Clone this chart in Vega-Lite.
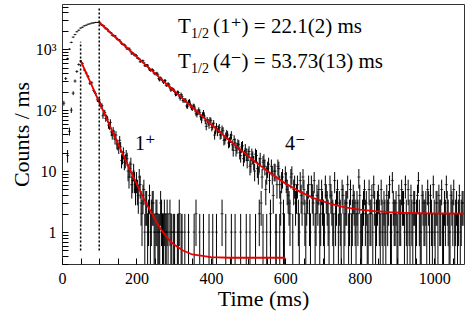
{
  "$schema": "https://vega.github.io/schema/vega-lite/v6.json",
  "width": 402,
  "height": 260,
  "autosize": {"type": "none"},
  "padding": {"left": 62, "top": 4, "right": 5, "bottom": 68},
  "background": "white",
  "config": {
    "view": {"stroke": "#333", "strokeWidth": 1},
    "font": "Liberation Serif, Times New Roman, Times, DejaVu Serif, serif",
    "axis": {"grid": false, "domain": false, "tickColor": "#000", "labelColor": "#000", "titleColor": "#000", "labelFont": "Liberation Serif, Times New Roman, Times, DejaVu Serif, serif", "titleFont": "Liberation Serif, Times New Roman, Times, DejaVu Serif, serif", "titleFontWeight": "normal", "labelFontSize": 16, "titleFontSize": 22, "labelOverlap": false, "labelFlush": false}
  },
  "datasets": {
    "h": [
      {"s":"b","x":5,"y":130,"e":11.4},{"s":"b","x":10,"y":330,"e":18.2},{"s":"b","x":15,"y":700,"e":26.5},{"s":"b","x":20,"y":1000,"e":31.6},{"s":"b","x":25,"y":1290,"e":35.9},{"s":"b","x":30,"y":1575,"e":39.7},{"s":"b","x":35,"y":1735,"e":41.7},{"s":"b","x":40,"y":1930,"e":43.9},{"s":"b","x":45,"y":2045,"e":45.2},{"s":"b","x":50,"y":2215,"e":47.1},{"s":"b","x":55,"y":2290,"e":47.9},{"s":"b","x":60,"y":2415,"e":49.1},{"s":"b","x":65,"y":2470,"e":49.7},{"s":"b","x":70,"y":2560,"e":50.6},{"s":"b","x":75,"y":2600,"e":51},{"s":"b","x":80,"y":2675,"e":51.7},{"s":"b","x":85,"y":2690,"e":51.9},{"s":"b","x":90,"y":2745,"e":52.4},{"s":"b","x":95,"y":2740,"e":52.3},
      {"s":"b","x":100,"y":2768,"e":52.6},{"s":"b","x":105,"y":2524,"e":50.2},{"s":"b","x":110,"y":2458,"e":49.6},{"s":"b","x":115,"y":2258,"e":47.5},{"s":"b","x":120,"y":2191,"e":46.8},{"s":"b","x":125,"y":1962,"e":44.3},{"s":"b","x":130,"y":1873,"e":43.3},{"s":"b","x":135,"y":1689,"e":41.1},{"s":"b","x":140,"y":1679,"e":41},{"s":"b","x":145,"y":1560,"e":39.5},{"s":"b","x":150,"y":1429,"e":37.8},{"s":"b","x":155,"y":1398,"e":37.4},{"s":"b","x":160,"y":1237,"e":35.2},{"s":"b","x":165,"y":1190,"e":34.5},{"s":"b","x":170,"y":1136,"e":33.7},{"s":"b","x":175,"y":1004,"e":31.7},{"s":"b","x":180,"y":1034,"e":32.2},{"s":"b","x":185,"y":905,"e":30.1},{"s":"b","x":190,"y":868,"e":29.5},{"s":"b","x":195,"y":786,"e":28},
      {"s":"b","x":200,"y":786,"e":28},{"s":"b","x":205,"y":708,"e":26.6},{"s":"b","x":210,"y":621,"e":24.9},{"s":"b","x":215,"y":643,"e":25.4},{"s":"b","x":220,"y":596,"e":24.4},{"s":"b","x":225,"y":536,"e":23.2},{"s":"b","x":230,"y":545,"e":23.3},{"s":"b","x":235,"y":461,"e":21.5},{"s":"b","x":240,"y":457,"e":21.4},{"s":"b","x":245,"y":444,"e":21.1},{"s":"b","x":250,"y":393,"e":19.8},{"s":"b","x":255,"y":405,"e":20.1},{"s":"b","x":260,"y":329,"e":18.1},{"s":"b","x":265,"y":338,"e":18.4},{"s":"b","x":270,"y":305,"e":17.5},{"s":"b","x":275,"y":303,"e":17.4},{"s":"b","x":280,"y":256,"e":16},{"s":"b","x":285,"y":271,"e":16.5},{"s":"b","x":290,"y":233,"e":15.3},{"s":"b","x":295,"y":224,"e":15},
      {"s":"b","x":300,"y":214,"e":14.6},{"s":"b","x":305,"y":182,"e":13.5},{"s":"b","x":310,"y":196,"e":14},{"s":"b","x":315,"y":170,"e":13},{"s":"b","x":320,"y":181,"e":13.5},{"s":"b","x":325,"y":144,"e":12},{"s":"b","x":330,"y":144,"e":12},{"s":"b","x":335,"y":117,"e":10.8},{"s":"b","x":340,"y":136,"e":11.7},{"s":"b","x":345,"y":123,"e":11.1},{"s":"b","x":350,"y":107,"e":10.3},{"s":"b","x":355,"y":116,"e":10.8},{"s":"b","x":360,"y":89,"e":9.4},{"s":"b","x":365,"y":92,"e":9.6},{"s":"b","x":370,"y":92,"e":9.6},{"s":"b","x":375,"y":69,"e":8.3},{"s":"b","x":380,"y":91,"e":9.5},{"s":"b","x":385,"y":67,"e":8.2},{"s":"b","x":390,"y":69,"e":8.3},{"s":"b","x":395,"y":57,"e":7.5},
      {"s":"b","x":102.5,"y":2663,"e":51.6},{"s":"b","x":107.5,"y":2478,"e":49.8},{"s":"b","x":112.5,"y":2395,"e":48.9},{"s":"b","x":117.5,"y":2154,"e":46.4},{"s":"b","x":122.5,"y":2094,"e":45.8},{"s":"b","x":127.5,"y":1921,"e":43.8},{"s":"b","x":132.5,"y":1831,"e":42.8},{"s":"b","x":137.5,"y":1647,"e":40.6},{"s":"b","x":142.5,"y":1655,"e":40.7},{"s":"b","x":147.5,"y":1479,"e":38.5},{"s":"b","x":152.5,"y":1432,"e":37.8},{"s":"b","x":157.5,"y":1318,"e":36.3},{"s":"b","x":162.5,"y":1194,"e":34.6},{"s":"b","x":167.5,"y":1196,"e":34.6},{"s":"b","x":172.5,"y":1061,"e":32.6},{"s":"b","x":177.5,"y":1026,"e":32},{"s":"b","x":182.5,"y":972,"e":31.2},{"s":"b","x":187.5,"y":837,"e":28.9},{"s":"b","x":192.5,"y":832,"e":28.8},{"s":"b","x":197.5,"y":811,"e":28.5},
      {"s":"b","x":202.5,"y":712,"e":26.7},{"s":"b","x":207.5,"y":693,"e":26.3},{"s":"b","x":212.5,"y":633,"e":25.2},{"s":"b","x":217.5,"y":647,"e":25.4},{"s":"b","x":222.5,"y":536,"e":23.2},{"s":"b","x":227.5,"y":547,"e":23.4},{"s":"b","x":232.5,"y":499,"e":22.3},{"s":"b","x":237.5,"y":449,"e":21.2},{"s":"b","x":242.5,"y":464,"e":21.5},{"s":"b","x":247.5,"y":404,"e":20.1},{"s":"b","x":252.5,"y":396,"e":19.9},{"s":"b","x":257.5,"y":379,"e":19.5},{"s":"b","x":262.5,"y":312,"e":17.7},{"s":"b","x":267.5,"y":321,"e":17.9},{"s":"b","x":272.5,"y":286,"e":16.9},{"s":"b","x":277.5,"y":303,"e":17.4},{"s":"b","x":282.5,"y":259,"e":16.1},{"s":"b","x":287.5,"y":259,"e":16.1},{"s":"b","x":292.5,"y":214,"e":14.6},{"s":"b","x":297.5,"y":221,"e":14.9},
      {"s":"b","x":302.5,"y":203,"e":14.2},{"s":"b","x":307.5,"y":185,"e":13.6},{"s":"b","x":312.5,"y":194,"e":13.9},{"s":"b","x":317.5,"y":156,"e":12.5},{"s":"b","x":322.5,"y":168,"e":13},{"s":"b","x":327.5,"y":146,"e":12.1},{"s":"b","x":332.5,"y":145,"e":12},{"s":"b","x":337.5,"y":116,"e":10.8},{"s":"b","x":342.5,"y":140,"e":11.8},{"s":"b","x":347.5,"y":111,"e":10.5},{"s":"b","x":352.5,"y":117,"e":10.8},{"s":"b","x":357.5,"y":103,"e":10.1},{"s":"b","x":362.5,"y":85,"e":9.2},{"s":"b","x":367.5,"y":101,"e":10},{"s":"b","x":372.5,"y":78,"e":8.8},{"s":"b","x":377.5,"y":82,"e":9.1},{"s":"b","x":382.5,"y":80,"e":8.9},{"s":"b","x":387.5,"y":54,"e":7.3},{"s":"b","x":392.5,"y":64,"e":8},{"s":"b","x":397.5,"y":69,"e":8.3},
      {"s":"b","x":400,"y":67,"e":8.2},{"s":"b","x":405,"y":55,"e":7.4},{"s":"b","x":410,"y":39,"e":6.2},{"s":"b","x":415,"y":54,"e":7.3},{"s":"b","x":420,"y":49,"e":7},{"s":"b","x":425,"y":39,"e":6.2},{"s":"b","x":430,"y":49,"e":7},{"s":"b","x":435,"y":32,"e":5.7},{"s":"b","x":440,"y":37,"e":6.1},{"s":"b","x":445,"y":39,"e":6.2},{"s":"b","x":450,"y":30,"e":5.5},{"s":"b","x":455,"y":39,"e":6.2},{"s":"b","x":460,"y":22,"e":4.7},{"s":"b","x":465,"y":29,"e":5.4},{"s":"b","x":470,"y":24,"e":4.9},{"s":"b","x":475,"y":27,"e":5.2},{"s":"b","x":480,"y":18,"e":4.2},{"s":"b","x":485,"y":26,"e":5.1},{"s":"b","x":490,"y":18,"e":4.2},{"s":"b","x":495,"y":19,"e":4.4},
      {"s":"b","x":500,"y":19,"e":4.4},{"s":"b","x":505,"y":12,"e":3.5},{"s":"b","x":510,"y":19,"e":4.4},{"s":"b","x":515,"y":14,"e":3.7},{"s":"b","x":520,"y":19,"e":4.4},{"s":"b","x":525,"y":11,"e":3.3},{"s":"b","x":530,"y":13,"e":3.6},{"s":"b","x":535,"y":3,"e":1.73},{"s":"b","x":540,"y":14,"e":3.7},{"s":"b","x":545,"y":12,"e":3.5},{"s":"b","x":550,"y":9,"e":3},{"s":"b","x":555,"y":13,"e":3.6},{"s":"b","x":560,"y":2,"e":1.41},{"s":"b","x":565,"y":9,"e":3},{"s":"b","x":570,"y":10,"e":3.2},{"s":"b","x":575,"y":1,"e":0.99},{"s":"b","x":580,"y":12,"e":3.5},{"s":"b","x":585,"y":6,"e":2.45},{"s":"b","x":590,"y":7,"e":2.65},{"s":"b","x":595,"y":2,"e":1.41},
      {"s":"b","x":402.5,"y":52,"e":7.2},{"s":"b","x":407.5,"y":61,"e":7.8},{"s":"b","x":412.5,"y":47,"e":6.9},{"s":"b","x":417.5,"y":44,"e":6.6},{"s":"b","x":422.5,"y":52,"e":7.2},{"s":"b","x":427.5,"y":40,"e":6.3},{"s":"b","x":432.5,"y":46,"e":6.8},{"s":"b","x":437.5,"y":33,"e":5.7},{"s":"b","x":442.5,"y":41,"e":6.4},{"s":"b","x":447.5,"y":29,"e":5.4},{"s":"b","x":452.5,"y":35,"e":5.9},{"s":"b","x":457.5,"y":27,"e":5.2},{"s":"b","x":462.5,"y":33,"e":5.7},{"s":"b","x":467.5,"y":22,"e":4.7},{"s":"b","x":472.5,"y":28,"e":5.3},{"s":"b","x":477.5,"y":20,"e":4.5},{"s":"b","x":482.5,"y":25,"e":5},{"s":"b","x":487.5,"y":16,"e":4},{"s":"b","x":492.5,"y":23,"e":4.8},{"s":"b","x":497.5,"y":15,"e":3.9},
      {"s":"b","x":502.5,"y":21,"e":4.6},{"s":"b","x":507.5,"y":13,"e":3.6},{"s":"b","x":512.5,"y":17,"e":4.1},{"s":"b","x":517.5,"y":10,"e":3.2},{"s":"b","x":522.5,"y":18,"e":4.2},{"s":"b","x":527.5,"y":9,"e":3},{"s":"b","x":532.5,"y":16,"e":4},{"s":"b","x":537.5,"y":8,"e":2.83},{"s":"b","x":542.5,"y":15,"e":3.9},{"s":"b","x":547.5,"y":5,"e":2.24},{"s":"b","x":552.5,"y":11,"e":3.3},{"s":"b","x":557.5,"y":7,"e":2.65},{"s":"b","x":562.5,"y":12,"e":3.5},{"s":"b","x":567.5,"y":4,"e":2},{"s":"b","x":572.5,"y":10,"e":3.2},{"s":"b","x":577.5,"y":6,"e":2.45},{"s":"b","x":582.5,"y":11,"e":3.3},{"s":"b","x":587.5,"y":3,"e":1.73},{"s":"b","x":592.5,"y":8,"e":2.83},{"s":"b","x":597.5,"y":1,"e":0.99},
      {"s":"b","x":600,"y":9,"e":3},{"s":"b","x":605,"y":5,"e":2.24},{"s":"b","x":610,"y":3,"e":1.73},{"s":"b","x":615,"y":8,"e":2.83},{"s":"b","x":620,"y":1,"e":0.99},{"s":"b","x":625,"y":6,"e":2.45},{"s":"b","x":630,"y":4,"e":2},{"s":"b","x":635,"y":2,"e":1.41},{"s":"b","x":640,"y":7,"e":2.65},{"s":"b","x":645,"y":3,"e":1.73},{"s":"b","x":650,"y":5,"e":2.24},{"s":"b","x":655,"y":1,"e":0.99},{"s":"b","x":660,"y":4,"e":2},{"s":"b","x":665,"y":2,"e":1.41},{"s":"b","x":670,"y":6,"e":2.45},{"s":"b","x":675,"y":3,"e":1.73},{"s":"b","x":680,"y":1,"e":0.99},{"s":"b","x":685,"y":4,"e":2},{"s":"b","x":690,"y":5,"e":2.24},{"s":"b","x":695,"y":2,"e":1.41},
      {"s":"b","x":700,"y":3,"e":1.73},{"s":"b","x":705,"y":1,"e":0.99},{"s":"b","x":710,"y":4,"e":2},{"s":"b","x":715,"y":2,"e":1.41},{"s":"b","x":720,"y":6,"e":2.45},{"s":"b","x":725,"y":3,"e":1.73},{"s":"b","x":730,"y":1,"e":0.99},{"s":"b","x":735,"y":2,"e":1.41},{"s":"b","x":740,"y":5,"e":2.24},{"s":"b","x":745,"y":3,"e":1.73},{"s":"b","x":750,"y":1,"e":0.99},{"s":"b","x":755,"y":4,"e":2},{"s":"b","x":760,"y":2,"e":1.41},{"s":"b","x":765,"y":3,"e":1.73},{"s":"b","x":770,"y":1,"e":0.99},{"s":"b","x":775,"y":5,"e":2.24},{"s":"b","x":780,"y":2,"e":1.41},{"s":"b","x":785,"y":3,"e":1.73},{"s":"b","x":790,"y":1,"e":0.99},{"s":"b","x":795,"y":2,"e":1.41},
      {"s":"b","x":800,"y":4,"e":2},{"s":"b","x":805,"y":1,"e":0.99},{"s":"b","x":810,"y":3,"e":1.73},{"s":"b","x":815,"y":2,"e":1.41},{"s":"b","x":820,"y":1,"e":0.99},{"s":"b","x":825,"y":5,"e":2.24},{"s":"b","x":830,"y":2,"e":1.41},{"s":"b","x":835,"y":1,"e":0.99},{"s":"b","x":840,"y":3,"e":1.73},{"s":"b","x":845,"y":2,"e":1.41},{"s":"b","x":850,"y":4,"e":2},{"s":"b","x":855,"y":1,"e":0.99},{"s":"b","x":860,"y":2,"e":1.41},{"s":"b","x":865,"y":3,"e":1.73},{"s":"b","x":870,"y":1,"e":0.99},{"s":"b","x":875,"y":2,"e":1.41},{"s":"b","x":880,"y":6,"e":2.45},{"s":"b","x":885,"y":1,"e":0.99},{"s":"b","x":890,"y":3,"e":1.73},{"s":"b","x":895,"y":2,"e":1.41},
      {"s":"b","x":900,"y":1,"e":0.99},{"s":"b","x":905,"y":4,"e":2},{"s":"b","x":910,"y":2,"e":1.41},{"s":"b","x":915,"y":3,"e":1.73},{"s":"b","x":920,"y":1,"e":0.99},{"s":"b","x":925,"y":2,"e":1.41},{"s":"b","x":930,"y":5,"e":2.24},{"s":"b","x":935,"y":1,"e":0.99},{"s":"b","x":940,"y":2,"e":1.41},{"s":"b","x":945,"y":3,"e":1.73},{"s":"b","x":950,"y":1,"e":0.99},{"s":"b","x":955,"y":4,"e":2},{"s":"b","x":960,"y":2,"e":1.41},{"s":"b","x":965,"y":1,"e":0.99},{"s":"b","x":970,"y":3,"e":1.73},{"s":"b","x":975,"y":2,"e":1.41},{"s":"b","x":980,"y":1,"e":0.99},{"s":"b","x":985,"y":3,"e":1.73},{"s":"b","x":990,"y":4,"e":2},{"s":"b","x":995,"y":1,"e":0.99},
      {"s":"b","x":1000,"y":2,"e":1.41},{"s":"b","x":1005,"y":3,"e":1.73},{"s":"b","x":1010,"y":1,"e":0.99},{"s":"b","x":1015,"y":2,"e":1.41},{"s":"b","x":1020,"y":5,"e":2.24},{"s":"b","x":1025,"y":1,"e":0.99},{"s":"b","x":1030,"y":2,"e":1.41},{"s":"b","x":1035,"y":3,"e":1.73},{"s":"b","x":1040,"y":1,"e":0.99},{"s":"b","x":1045,"y":4,"e":2},{"s":"b","x":1050,"y":2,"e":1.41},{"s":"b","x":1055,"y":1,"e":0.99},{"s":"b","x":1060,"y":3,"e":1.73},{"s":"b","x":1065,"y":2,"e":1.41},{"s":"b","x":1070,"y":1,"e":0.99},{"s":"b","x":1075,"y":3,"e":1.73},
      {"s":"b","x":602.5,"y":7,"e":2.65},{"s":"b","x":607.5,"y":4,"e":2},{"s":"b","x":612.5,"y":2,"e":1.41},{"s":"b","x":617.5,"y":9,"e":3},{"s":"b","x":622.5,"y":5,"e":2.24},{"s":"b","x":627.5,"y":3,"e":1.73},{"s":"b","x":632.5,"y":6,"e":2.45},{"s":"b","x":637.5,"y":1,"e":0.99},{"s":"b","x":642.5,"y":4,"e":2},{"s":"b","x":647.5,"y":8,"e":2.83},{"s":"b","x":652.5,"y":2,"e":1.41},{"s":"b","x":657.5,"y":3,"e":1.73},{"s":"b","x":662.5,"y":6,"e":2.45},{"s":"b","x":667.5,"y":1,"e":0.99},{"s":"b","x":672.5,"y":4,"e":2},{"s":"b","x":677.5,"y":7,"e":2.65},{"s":"b","x":682.5,"y":2,"e":1.41},{"s":"b","x":687.5,"y":3,"e":1.73},{"s":"b","x":692.5,"y":1,"e":0.99},{"s":"b","x":697.5,"y":5,"e":2.24},
      {"s":"b","x":702.5,"y":2,"e":1.41},{"s":"b","x":707.5,"y":6,"e":2.45},{"s":"b","x":712.5,"y":3,"e":1.73},{"s":"b","x":717.5,"y":1,"e":0.99},{"s":"b","x":722.5,"y":4,"e":2},{"s":"b","x":727.5,"y":2,"e":1.41},{"s":"b","x":732.5,"y":7,"e":2.65},{"s":"b","x":737.5,"y":3,"e":1.73},{"s":"b","x":742.5,"y":1,"e":0.99},{"s":"b","x":747.5,"y":2,"e":1.41},{"s":"b","x":752.5,"y":5,"e":2.24},{"s":"b","x":757.5,"y":1,"e":0.99},{"s":"b","x":762.5,"y":3,"e":1.73},{"s":"b","x":767.5,"y":6,"e":2.45},{"s":"b","x":772.5,"y":2,"e":1.41},{"s":"b","x":777.5,"y":1,"e":0.99},{"s":"b","x":782.5,"y":4,"e":2},{"s":"b","x":787.5,"y":2,"e":1.41},{"s":"b","x":792.5,"y":3,"e":1.73},{"s":"b","x":797.5,"y":8,"e":2.83},
      {"s":"b","x":802.5,"y":1,"e":0.99},{"s":"b","x":807.5,"y":2,"e":1.41},{"s":"b","x":812.5,"y":5,"e":2.24},{"s":"b","x":817.5,"y":3,"e":1.73},{"s":"b","x":822.5,"y":1,"e":0.99},{"s":"b","x":827.5,"y":2,"e":1.41},{"s":"b","x":832.5,"y":4,"e":2},{"s":"b","x":837.5,"y":6,"e":2.45},{"s":"b","x":842.5,"y":1,"e":0.99},{"s":"b","x":847.5,"y":3,"e":1.73},{"s":"b","x":852.5,"y":2,"e":1.41},{"s":"b","x":857.5,"y":5,"e":2.24},{"s":"b","x":862.5,"y":1,"e":0.99},{"s":"b","x":867.5,"y":2,"e":1.41},{"s":"b","x":872.5,"y":4,"e":2},{"s":"b","x":877.5,"y":3,"e":1.73},{"s":"b","x":882.5,"y":1,"e":0.99},{"s":"b","x":887.5,"y":7,"e":2.65},{"s":"b","x":892.5,"y":2,"e":1.41},{"s":"b","x":897.5,"y":3,"e":1.73},
      {"s":"b","x":902.5,"y":1,"e":0.99},{"s":"b","x":907.5,"y":2,"e":1.41},{"s":"b","x":912.5,"y":5,"e":2.24},{"s":"b","x":917.5,"y":3,"e":1.73},{"s":"b","x":922.5,"y":6,"e":2.45},{"s":"b","x":927.5,"y":1,"e":0.99},{"s":"b","x":932.5,"y":2,"e":1.41},{"s":"b","x":937.5,"y":4,"e":2},{"s":"b","x":942.5,"y":1,"e":0.99},{"s":"b","x":947.5,"y":3,"e":1.73},{"s":"b","x":952.5,"y":2,"e":1.41},{"s":"b","x":957.5,"y":7,"e":2.65},{"s":"b","x":962.5,"y":1,"e":0.99},{"s":"b","x":967.5,"y":4,"e":2},{"s":"b","x":972.5,"y":2,"e":1.41},{"s":"b","x":977.5,"y":3,"e":1.73},{"s":"b","x":982.5,"y":5,"e":2.24},{"s":"b","x":987.5,"y":1,"e":0.99},{"s":"b","x":992.5,"y":2,"e":1.41},{"s":"b","x":997.5,"y":6,"e":2.45},
      {"s":"b","x":1002.5,"y":1,"e":0.99},{"s":"b","x":1007.5,"y":3,"e":1.73},{"s":"b","x":1012.5,"y":4,"e":2},{"s":"b","x":1017.5,"y":2,"e":1.41},{"s":"b","x":1022.5,"y":1,"e":0.99},{"s":"b","x":1027.5,"y":3,"e":1.73},{"s":"b","x":1032.5,"y":6,"e":2.45},{"s":"b","x":1037.5,"y":2,"e":1.41},{"s":"b","x":1042.5,"y":1,"e":0.99},{"s":"b","x":1047.5,"y":3,"e":1.73},{"s":"b","x":1052.5,"y":5,"e":2.24},{"s":"b","x":1057.5,"y":2,"e":1.41},{"s":"b","x":1062.5,"y":1,"e":0.99},{"s":"b","x":1067.5,"y":4,"e":2},{"s":"b","x":1072.5,"y":2,"e":1.41},{"s":"b","x":1077.5,"y":3,"e":1.73},
      {"s":"a","x":15,"y":18,"e":4.2},{"s":"a","x":20,"y":45,"e":6.7},{"s":"a","x":25,"y":100,"e":10},{"s":"a","x":30,"y":190,"e":13.8},{"s":"a","x":35,"y":300,"e":17.3},{"s":"a","x":40,"y":430,"e":20.7},{"s":"a","x":45,"y":560,"e":23.7},
      {"s":"a","x":50,"y":640,"e":25.3},{"s":"a","x":55,"y":584,"e":24.2},{"s":"a","x":60,"y":455,"e":21.3},{"s":"a","x":65,"y":406,"e":20.1},{"s":"a","x":70,"y":358,"e":18.9},{"s":"a","x":75,"y":275,"e":16.6},{"s":"a","x":80,"y":281,"e":16.8},{"s":"a","x":85,"y":210,"e":14.5},{"s":"a","x":90,"y":188,"e":13.7},{"s":"a","x":95,"y":148,"e":12.2},
      {"s":"a","x":100,"y":147,"e":12.1},{"s":"a","x":105,"y":115,"e":10.7},{"s":"a","x":110,"y":81,"e":9},{"s":"a","x":115,"y":91,"e":9.5},{"s":"a","x":120,"y":76,"e":8.7},{"s":"a","x":125,"y":57,"e":7.5},{"s":"a","x":130,"y":63,"e":7.9},{"s":"a","x":135,"y":39,"e":6.2},{"s":"a","x":140,"y":40,"e":6.3},{"s":"a","x":145,"y":39,"e":6.2},{"s":"a","x":150,"y":27,"e":5.2},{"s":"a","x":155,"y":32,"e":5.7},{"s":"a","x":160,"y":15,"e":3.9},{"s":"a","x":165,"y":20,"e":4.5},{"s":"a","x":170,"y":15,"e":3.9},{"s":"a","x":175,"y":16,"e":4},{"s":"a","x":180,"y":8,"e":2.83},{"s":"a","x":185,"y":13,"e":3.61},{"s":"a","x":190,"y":7,"e":2.65},{"s":"a","x":195,"y":7,"e":2.65},
      {"s":"a","x":102.5,"y":128,"e":11.3},{"s":"a","x":107.5,"y":118,"e":10.9},{"s":"a","x":112.5,"y":92,"e":9.6},{"s":"a","x":117.5,"y":73,"e":8.5},{"s":"a","x":122.5,"y":71,"e":8.4},{"s":"a","x":127.5,"y":55,"e":7.4},{"s":"a","x":132.5,"y":44,"e":6.6},{"s":"a","x":137.5,"y":46,"e":6.8},{"s":"a","x":142.5,"y":33,"e":5.7},{"s":"a","x":147.5,"y":28,"e":5.3},{"s":"a","x":152.5,"y":24,"e":4.9},{"s":"a","x":157.5,"y":25,"e":5},{"s":"a","x":162.5,"y":17,"e":4.1},{"s":"a","x":167.5,"y":14,"e":3.7},{"s":"a","x":172.5,"y":18,"e":4.2},{"s":"a","x":177.5,"y":10,"e":3.2},{"s":"a","x":182.5,"y":11,"e":3.3},{"s":"a","x":187.5,"y":6,"e":2.45},{"s":"a","x":192.5,"y":10,"e":3.2},{"s":"a","x":197.5,"y":5,"e":2.24},
      {"s":"a","x":200,"y":7,"e":2.65},{"s":"a","x":205,"y":4,"e":2},{"s":"a","x":210,"y":6,"e":2.45},{"s":"a","x":215,"y":2,"e":1.41},{"s":"a","x":220,"y":5,"e":2.24},{"s":"a","x":225,"y":3,"e":1.73},{"s":"a","x":230,"y":1,"e":0.99},{"s":"a","x":235,"y":4,"e":2},{"s":"a","x":240,"y":2,"e":1.41},{"s":"a","x":245,"y":3,"e":1.73},{"s":"a","x":250,"y":1,"e":0.99},{"s":"a","x":255,"y":2,"e":1.41},{"s":"a","x":260,"y":1,"e":0.99},{"s":"a","x":265,"y":3,"e":1.73},{"s":"a","x":270,"y":1,"e":0.99},{"s":"a","x":275,"y":2,"e":1.41},{"s":"a","x":280,"y":1,"e":0.99},{"s":"a","x":285,"y":1,"e":0.99},{"s":"a","x":290,"y":2,"e":1.41},{"s":"a","x":295,"y":1,"e":0.99},
      {"s":"a","x":202.5,"y":5,"e":2.24},{"s":"a","x":207.5,"y":8,"e":2.83},{"s":"a","x":212.5,"y":3,"e":1.73},{"s":"a","x":217.5,"y":4,"e":2},{"s":"a","x":222.5,"y":1,"e":0.99},{"s":"a","x":227.5,"y":3,"e":1.73},{"s":"a","x":232.5,"y":2,"e":1.41},{"s":"a","x":237.5,"y":1,"e":0.99},{"s":"a","x":242.5,"y":3,"e":1.73},{"s":"a","x":247.5,"y":1,"e":0.99},{"s":"a","x":252.5,"y":2,"e":1.41},{"s":"a","x":257.5,"y":1,"e":0.99},{"s":"a","x":262.5,"y":1,"e":0.99},{"s":"a","x":267.5,"y":2,"e":1.41},{"s":"a","x":272.5,"y":1,"e":0.99},{"s":"a","x":277.5,"y":1,"e":0.99},{"s":"a","x":282.5,"y":2,"e":1.41},{"s":"a","x":292.5,"y":1,"e":0.99},{"s":"a","x":302.5,"y":1,"e":0.99},{"s":"a","x":312.5,"y":1,"e":0.99},{"s":"a","x":322.5,"y":1,"e":0.99},
      {"s":"a","x":300,"y":1,"e":0.99},{"s":"a","x":310,"y":1,"e":0.99},{"s":"a","x":315,"y":2,"e":1.41},{"s":"a","x":320,"y":1,"e":0.99},{"s":"a","x":330,"y":1,"e":0.99},{"s":"a","x":340,"y":1,"e":0.99},{"s":"a","x":355,"y":1,"e":0.99},{"s":"a","x":360,"y":2,"e":1.41},{"s":"a","x":370,"y":1,"e":0.99},{"s":"a","x":380,"y":1,"e":0.99},{"s":"a","x":395,"y":1,"e":0.99},{"s":"a","x":405,"y":1,"e":0.99},{"s":"a","x":415,"y":1,"e":0.99},{"s":"a","x":430,"y":2,"e":1.41},{"s":"a","x":440,"y":1,"e":0.99},{"s":"a","x":455,"y":1,"e":0.99},{"s":"a","x":465,"y":1,"e":0.99},{"s":"a","x":480,"y":1,"e":0.99},{"s":"a","x":495,"y":1,"e":0.99},{"s":"a","x":505,"y":1,"e":0.99},{"s":"a","x":520,"y":1,"e":0.99},{"s":"a","x":530,"y":2,"e":1.41},{"s":"a","x":540,"y":1,"e":0.99},{"s":"a","x":550,"y":1,"e":0.99},{"s":"a","x":560,"y":1,"e":0.99},{"s":"a","x":575,"y":1,"e":0.99},{"s":"a","x":585,"y":1,"e":0.99},{"s":"a","x":595,"y":1,"e":0.99}
    ],
    "f": [
      {"s":"b","x":100,"y":2752},{"s":"b","x":120,"y":2126},{"s":"b","x":140,"y":1643},{"s":"b","x":160,"y":1269},{"s":"b","x":180,"y":981},{"s":"b","x":200,"y":758},{"s":"b","x":220,"y":586},{"s":"b","x":240,"y":453},{"s":"b","x":260,"y":351},{"s":"b","x":280,"y":271},{"s":"b","x":300,"y":210},{"s":"b","x":320,"y":163},{"s":"b","x":340,"y":126},{"s":"b","x":360,"y":98},{"s":"b","x":380,"y":76},{"s":"b","x":400,"y":59},{"s":"b","x":420,"y":46},{"s":"b","x":440,"y":36},{"s":"b","x":460,"y":28.3},{"s":"b","x":480,"y":22.3},{"s":"b","x":500,"y":17.7},{"s":"b","x":520,"y":14.1},{"s":"b","x":540,"y":11.4},{"s":"b","x":560,"y":9.2},{"s":"b","x":580,"y":7.6},{"s":"b","x":600,"y":6.3},{"s":"b","x":640,"y":4.57},{"s":"b","x":680,"y":3.53},{"s":"b","x":720,"y":2.92},{"s":"b","x":760,"y":2.55},{"s":"b","x":800,"y":2.33},{"s":"b","x":840,"y":2.2},{"s":"b","x":880,"y":2.12},{"s":"b","x":920,"y":2.07},{"s":"b","x":960,"y":2.04},{"s":"b","x":1000,"y":2.03},{"s":"b","x":1040,"y":2.02},{"s":"b","x":1080,"y":2.01},
      {"s":"a","x":50,"y":650},{"s":"a","x":60,"y":475},{"s":"a","x":70,"y":347},{"s":"a","x":80,"y":254},{"s":"a","x":90,"y":185},{"s":"a","x":100,"y":135},{"s":"a","x":110,"y":99.4},{"s":"a","x":120,"y":72.7},{"s":"a","x":130,"y":53.3},{"s":"a","x":140,"y":39},{"s":"a","x":150,"y":28.6},{"s":"a","x":160,"y":21},{"s":"a","x":170,"y":15.5},{"s":"a","x":180,"y":11.4},{"s":"a","x":190,"y":8.4},{"s":"a","x":200,"y":6.3},{"s":"a","x":210,"y":4.7},{"s":"a","x":220,"y":3.5},{"s":"a","x":230,"y":2.7},{"s":"a","x":240,"y":2.1},{"s":"a","x":250,"y":1.6},{"s":"a","x":260,"y":1.26},{"s":"a","x":270,"y":1.02},{"s":"a","x":280,"y":0.85},{"s":"a","x":290,"y":0.72},{"s":"a","x":300,"y":0.63},{"s":"a","x":325,"y":0.5},{"s":"a","x":350,"y":0.43},{"s":"a","x":400,"y":0.39},{"s":"a","x":450,"y":0.38},{"s":"a","x":600,"y":0.38}
    ],
    "v": [{"x":50,"y":0.5,"y2":1320},{"x":100,"y":0.5,"y2":4800}],
    "t": [{"x":311.7,"y":1841,"t":"T"},{"x":405.7,"y":1841,"t":"(1⁺) = 22.1(2) ms"},{"x":311.7,"y":491,"t":"T"},{"x":405.7,"y":491,"t":"(4⁻) = 53.73(13) ms"}],
    "sub": [{"x":346.6,"y":1524,"t":"1/2"},{"x":346.6,"y":406,"t":"1/2"}],
    "lab": [{"x":196,"y":22.2,"t":"1⁺"},{"x":599,"y":22.2,"t":"4⁻"}]
  },
  "encoding": {
    "x": {"field": "x", "type": "quantitative", "scale": {"domain": [0, 1080], "nice": false},
      "axis": {"title": "Time (ms)", "values": [0,50,100,150,200,250,300,350,400,450,500,550,600,650,700,750,800,850,900,950,1000,1050], "format": "d", "labelExpr": "datum.value % 200 === 0 ? datum.label : ''", "offset": -6, "tickSize": 6, "labelPadding": 6, "titleY": 47, "titleBaseline": "alphabetic"}},
    "y": {"field": "y", "type": "quantitative", "scale": {"type": "log", "domain": [0.3, 5500], "nice": false, "clamp": true},
      "axis": {"title": "Counts / ms", "values": [0.3,0.4,0.5,0.6,0.7,0.8,0.9,1,2,3,4,5,6,7,8,9,10,20,30,40,50,60,70,80,90,100,200,300,400,500,600,700,800,900,1000,2000,3000,4000,5000], "labelExpr": "datum.value == 1 ? '1' : datum.value == 10 ? '10' : datum.value == 100 ? '10²' : datum.value == 1000 ? '10³' : ''", "offset": -6, "tickSize": 6, "labelPadding": 6, "titleX": -40, "titleBaseline": "alphabetic"}}
  },
  "layer": [
    {
      "data": {"name": "h"},
      "mark": {"type": "errorbar", "clip": true, "rule": {"stroke": "#000", "strokeWidth": 1}},
      "encoding": {
        "yError": {"field": "e"},
        "detail": {"field": "s"}
      }
    },
    {
      "data": {"name": "h"},
      "mark": {"type": "tick", "orient": "horizontal", "size": 3, "thickness": 1, "color": "#000", "clip": true}
    },
    {
      "data": {"name": "f"},
      "mark": {"type": "line", "color": "#e80000", "strokeWidth": 1.8, "clip": true},
      "encoding": {"detail": {"field": "s"}}
    },
    {
      "data": {"name": "v"},
      "mark": {"type": "rule", "color": "#000", "strokeWidth": 1.5, "strokeDash": [2, 2]},
      "encoding": {"y2": {"field": "y2"}}
    },
    {
      "data": {"name": "t"},
      "mark": {"type": "text", "font": "Liberation Serif, Times New Roman, Times, DejaVu Serif, serif", "fontSize": 21, "align": "left", "baseline": "alphabetic", "color": "#000"},
      "encoding": {"text": {"field": "t"}}
    },
    {
      "data": {"name": "sub"},
      "mark": {"type": "text", "font": "Liberation Serif, Times New Roman, Times, DejaVu Serif, serif", "fontSize": 14, "align": "left", "baseline": "alphabetic", "color": "#000"},
      "encoding": {"text": {"field": "t"}}
    },
    {
      "data": {"name": "lab"},
      "mark": {"type": "text", "font": "Liberation Serif, Times New Roman, Times, DejaVu Serif, serif", "fontSize": 20, "align": "left", "baseline": "alphabetic", "color": "#000"},
      "encoding": {"text": {"field": "t"}}
    }
  ]
}
